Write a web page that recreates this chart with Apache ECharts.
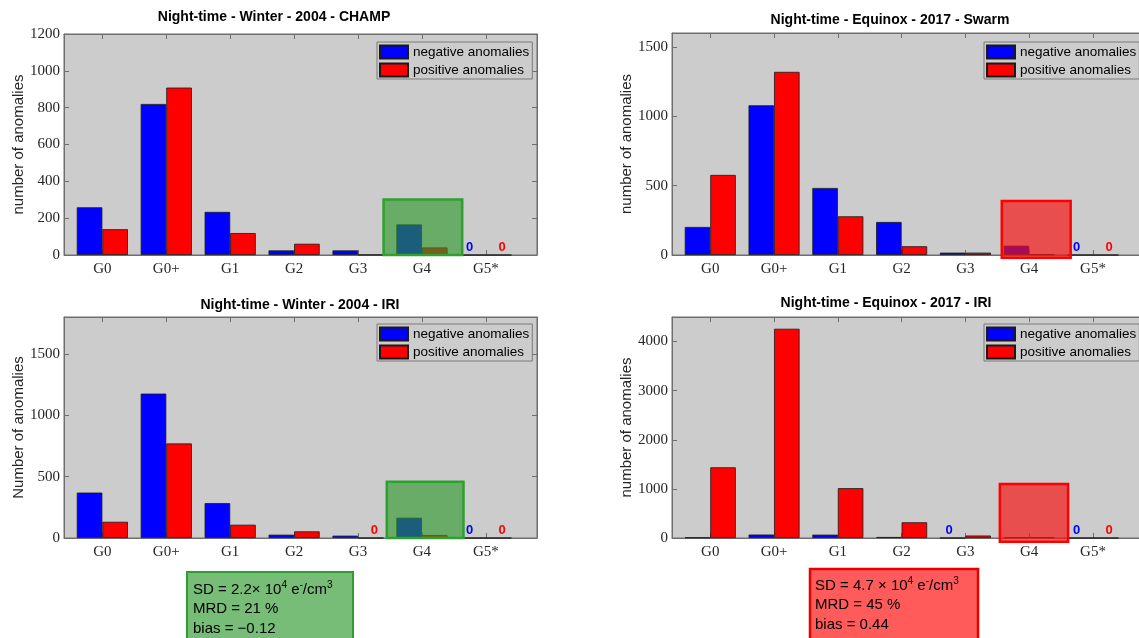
<!DOCTYPE html>
<html>
<head>
<meta charset="utf-8">
<title>Night-time anomalies by storm level</title>
<script src="https://cdn.jsdelivr.net/npm/echarts@6/dist/echarts.min.js"></script>
<style>
  html, body { margin: 0; padding: 0; background: #ffffff; }
  #chart { width: 1139px; height: 638px; }
</style>
</head>
<body>
<div id="chart"></div>
<script>
// Storm-level classes on the x axis
const categories = ['G0', 'G0+', 'G1', 'G2', 'G3', 'G4', 'G5*'];

// Anomaly counts per class
const champ2004Negative = [259, 820, 234, 25, 25, 166, 0];
const champ2004Positive = [140, 909, 119, 61, 1, 41, 0];
const swarm2017Negative = [202, 1079, 483, 238, 17, 67, 0];
const swarm2017Positive = [577, 1320, 279, 63, 17, 5, 0];
const iri2004Negative = [370, 1176, 284, 27, 19, 165, 0];
const iri2004Positive = [132, 770, 108, 54, 0, 24, 0];
const iri2017Negative = [10, 70, 68, 20, 0, 15, 0];
const iri2017Positive = [1440, 4260, 1015, 320, 50, 15, 0];

// Y tick values per panel
const champ2004Ticks = [0, 200, 400, 600, 800, 1000, 1200];
const swarm2017Ticks = [0, 500, 1000, 1500];
const iri2004Ticks = [0, 500, 1000, 1500];
const iri2017Ticks = [0, 1000, 2000, 3000, 4000];

// Highlight rectangles around the G4 class: [x0, y0, x1, y1] in axis units
const champ2004Box = [5.40, 0, 6.63, 302];
const swarm2017Box = [5.57, -20, 6.65, 389];
const iri2004Box = [5.45, 0, 6.65, 458];
const iri2017Box = [5.54, -75, 6.61, 1100];

// Model-vs-observation statistics
const iri2004Stats = 'SD = 2.2\u00d7 10{sup|4} e{sup|-}/cm{sup|3}\nMRD = 21 %\nbias = \u22120.12';
const iri2017Stats = 'SD = 4.7 \u00d7 10{sup|4} e{sup|-}/cm{sup|3}\nMRD = 45 %\nbias = 0.44';

const seriesNames = ['negative anomalies', 'positive anomalies'];

const SANS = '"Liberation Sans", Arial, sans-serif';
const SERIF = '"Liberation Serif", "Times New Roman", serif';
const AXIS_GREY = '#6e6e6e';
const TEXT_DARK = '#262626';

const GREEN_BOX = { fill: 'rgba(42,152,42,0.62)', stroke: '#2ea02e' };
const RED_BOX = { fill: 'rgba(245,18,18,0.68)', stroke: '#ff0000' };

const panels = [
  { title: 'Night-time - Winter - 2004 - CHAMP', titleX: 274, titleY: 17,
    yName: 'number of anomalies', nameGap: 34,
    neg: champ2004Negative, pos: champ2004Positive, yMax: 1200, yTicks: champ2004Ticks,
    box: champ2004Box, boxStyle: GREEN_BOX,
    grid: { left: 64, top: 34, width: 473, height: 221 },
    legend: { left: 377, top: 42 } },
  { title: 'Night-time - Equinox - 2017 - Swarm', titleX: 890, titleY: 20,
    yName: 'number of anomalies', nameGap: 37,
    neg: swarm2017Negative, pos: swarm2017Positive, yMax: 1600, yTicks: swarm2017Ticks,
    box: swarm2017Box, boxStyle: RED_BOX,
    grid: { left: 672, top: 33, width: 472, height: 222 },
    legend: { left: 984, top: 42 } },
  { title: 'Night-time - Winter - 2004 - IRI', titleX: 300, titleY: 305,
    yName: 'Number of anomalies', nameGap: 38,
    neg: iri2004Negative, pos: iri2004Positive, yMax: 1800, yTicks: iri2004Ticks,
    box: iri2004Box, boxStyle: GREEN_BOX,
    grid: { left: 64, top: 317, width: 473, height: 221 },
    legend: { left: 377, top: 324 } },
  { title: 'Night-time - Equinox - 2017 - IRI', titleX: 886, titleY: 303,
    yName: 'number of anomalies', nameGap: 34,
    neg: iri2017Negative, pos: iri2017Positive, yMax: 4500, yTicks: iri2017Ticks,
    box: iri2017Box, boxStyle: RED_BOX,
    grid: { left: 672, top: 317, width: 472, height: 221 },
    legend: { left: 984, top: 324 } }
];

const X_MIN = 0.4, X_MAX = 7.8;
const classPositions = categories.map((_, i) => i + 1);

const grids = [], xAxes = [], yAxes = [], series = [], legends = [], graphics = [];

function zeroLabel(color, dx) {
  return {
    show: true, position: 'top', distance: 1, offset: [dx, 0],
    color: color, fontFamily: SANS, fontWeight: 'bold', fontSize: 13,
    formatter: p => (p.value[1] === 0 ? '0' : '')
  };
}

panels.forEach((pn, k) => {
  grids.push(Object.assign({
    show: true, backgroundColor: '#cccccc', borderColor: AXIS_GREY, borderWidth: 1,
    containLabel: false, outerBoundsMode: 'none'
  }, pn.grid));

  const xCommon = {
    type: 'value', gridIndex: k, min: X_MIN, max: X_MAX,
    axisLine: { show: true, onZero: false, lineStyle: { color: AXIS_GREY } },
    axisTick: { show: true, inside: true, length: 5, customValues: classPositions,
                lineStyle: { color: AXIS_GREY } },
    splitLine: { show: false }
  };
  xAxes.push(Object.assign({}, xCommon, {
    position: 'bottom',
    axisLabel: { show: true, customValues: classPositions, margin: 7,
                 fontFamily: SERIF, fontSize: 15, color: TEXT_DARK,
                 formatter: v => categories[Math.round(v) - 1] || '' }
  }));
  xAxes.push(Object.assign({}, xCommon, {
    position: 'top', axisLabel: { show: false }
  }));

  const yCommon = {
    type: 'value', gridIndex: k, min: 0, max: pn.yMax,
    axisLine: { show: true, lineStyle: { color: AXIS_GREY } },
    axisTick: { show: true, inside: true, length: 5, customValues: pn.yTicks,
                lineStyle: { color: AXIS_GREY } },
    splitLine: { show: false }
  };
  yAxes.push(Object.assign({}, yCommon, {
    position: 'left',
    name: pn.yName, nameLocation: 'middle', nameGap: pn.nameGap,
    nameTextStyle: { fontFamily: SANS, fontSize: 15, color: TEXT_DARK },
    axisLabel: { show: true, customValues: pn.yTicks, margin: 4,
                 fontFamily: SERIF, fontSize: 15, color: TEXT_DARK,
                 formatter: v => String(v) }
  }));
  yAxes.push(Object.assign({}, yCommon, {
    position: 'right', axisLabel: { show: false }
  }));

  const xi = k * 2, yi = k * 2;
  series.push({
    name: seriesNames[0], type: 'bar', xAxisIndex: xi, yAxisIndex: yi,
    barWidth: '40%', barGap: '0%',
    itemStyle: { color: '#0000ff', borderColor: '#1a1a1a', borderWidth: 0.8 },
    label: zeroLabel('#0000ff', -3.5),
    data: pn.neg.map((v, i) => [classPositions[i], v])
  });
  series.push({
    name: seriesNames[1], type: 'bar', xAxisIndex: xi, yAxisIndex: yi,
    barWidth: '40%', barGap: '0%',
    itemStyle: { color: '#ff0000', borderColor: '#1a1a1a', borderWidth: 0.8 },
    label: zeroLabel('#ff0000', 3.5),
    data: pn.pos.map((v, i) => [classPositions[i], v])
  });
  series.push({
    type: 'custom', xAxisIndex: xi, yAxisIndex: yi, clip: false, z: 5, silent: true,
    encode: { x: [0, 2], y: [1, 3] },
    data: [pn.box],
    renderItem: (params, api) => {
      const a = api.coord([api.value(0), api.value(1)]);
      const b = api.coord([api.value(2), api.value(3)]);
      return {
        type: 'rect',
        shape: { x: Math.min(a[0], b[0]), y: Math.min(a[1], b[1]),
                 width: Math.abs(b[0] - a[0]), height: Math.abs(a[1] - b[1]) },
        style: { fill: pn.boxStyle.fill, stroke: pn.boxStyle.stroke, lineWidth: 2.5 }
      };
    }
  });

  legends.push({
    data: seriesNames, orient: 'vertical',
    left: pn.legend.left, top: pn.legend.top,
    backgroundColor: '#cccccc', borderColor: '#7a7a7a', borderWidth: 1,
    padding: [2, 3, 1, 2], itemGap: 2, itemWidth: 28, itemHeight: 13,
    icon: 'rect', selectedMode: false,
    textStyle: { fontFamily: SANS, fontSize: 13.5, color: '#000', lineHeight: 16 }
  });

  graphics.push({
    type: 'text', x: pn.titleX, y: pn.titleY, silent: true,
    style: { text: pn.title, align: 'center', verticalAlign: 'middle',
             font: 'bold 14px ' + SANS, fill: '#000' }
  });
});

// Statistics boxes under the IRI panels
const supStyle = { fontFamily: SANS, fontSize: 10, lineHeight: 10, verticalAlign: 'top', fill: '#000' };
graphics.push(
  { type: 'rect', shape: { x: 187, y: 572, width: 166, height: 80 },
    style: { fill: '#77bc77', stroke: '#2e9e2e', lineWidth: 2 } },
  { type: 'text', x: 193, y: 580,
    style: { text: iri2004Stats, fontFamily: SANS, fontSize: 15, lineHeight: 19.5,
             fill: '#000', rich: { sup: supStyle } } },
  { type: 'rect', shape: { x: 810, y: 569, width: 168, height: 80 },
    style: { fill: '#ff5b5b', stroke: '#e60000', lineWidth: 2.5 } },
  { type: 'text', x: 815, y: 576,
    style: { text: iri2017Stats, fontFamily: SANS, fontSize: 15, lineHeight: 19.5,
             fill: '#000', rich: { sup: supStyle } } }
);

const chart = echarts.init(document.getElementById('chart'), null, { renderer: 'canvas' });
chart.setOption({
  animation: false,
  backgroundColor: '#ffffff',
  grid: grids,
  xAxis: xAxes,
  yAxis: yAxes,
  legend: legends,
  series: series,
  graphic: graphics
});
</script>
</body>
</html>
